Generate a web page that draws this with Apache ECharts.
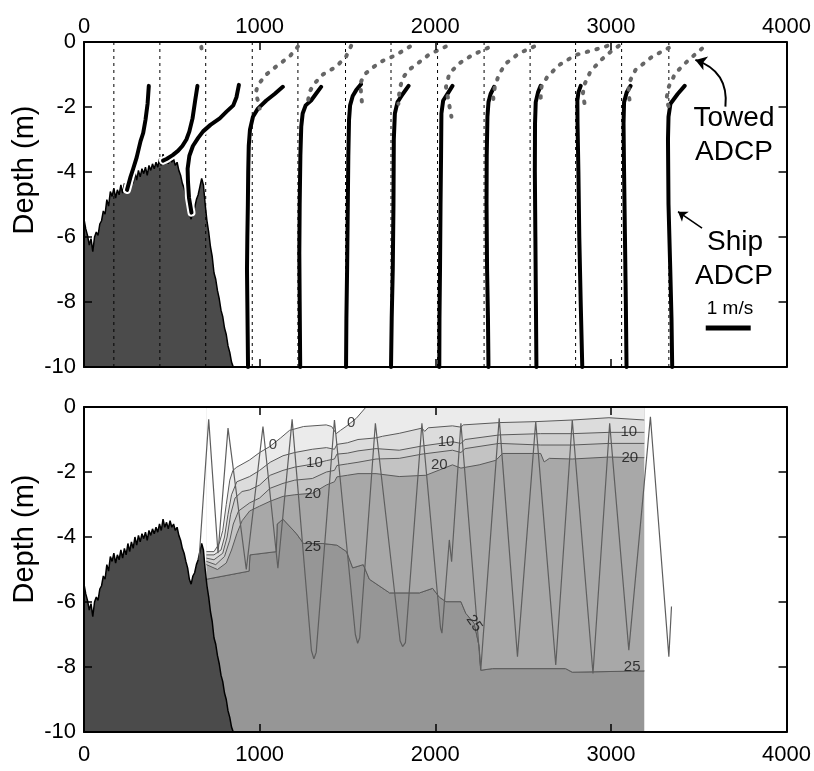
<!DOCTYPE html>
<html>
<head>
<meta charset="utf-8">
<script src="https://cdn.jsdelivr.net/npm/echarts@6.0.0/dist/echarts.min.js"></script>
<style>
  html, body { margin: 0; padding: 0; background: #fff; }
  #chart { width: 814px; height: 771px; }
</style>
</head>
<body>
<div id="chart"></div>
<script>
// distance along section (m) / depth (m)
const stations = [170, 432, 693, 958, 1218, 1489, 1748, 2013, 2278, 2540, 2799, 3061, 3330];

// bottom depth every 10 m from x = 0
const bathyDepth = [
  -5.45, -5.75, -5.95, -6.25, -6.05, -6.45, -6.0, -5.85, -5.95, -5.6,
  -5.5, -5.2, -5.3, -4.85, -5.05, -4.6, -4.75, -4.5, -4.8, -4.55,
  -4.7, -4.4, -4.65, -4.35, -4.55, -4.2, -4.45, -4.15, -4.35, -4.0,
  -4.25, -3.95, -4.15, -3.9, -4.05, -3.85, -4.1, -3.8, -3.95, -3.75,
  -3.9, -3.7, -3.85, -3.6, -3.8, -3.45, -3.7, -3.55, -3.75, -3.5,
  -3.7, -3.6, -3.8, -3.7, -3.95, -4.1, -4.35, -4.5, -4.75, -4.95,
  -5.3, -5.45, -5.2, -5.1, -4.85, -4.7, -4.45, -4.2, -4.4, -5.0,
  -5.5, -5.85, -6.3, -6.6, -7.1, -7.3, -7.65, -7.9, -8.25, -8.45,
  -8.8, -9.0, -9.35, -9.55, -9.85, -10
];
const bathyStep = 10;

// ship ADCP profiles (station + velocity offset, depth)
const shipProfiles = [
  [[369,-1.35],[362,-1.9],[350,-2.4],[337,-2.8],[322,-3.05],[300,-3.55],[280,-3.9],[265,-4.15],[245,-4.55]],
  [[646,-1.35],[633,-1.8],[618,-2.35],[600,-2.75],[583,-3.0],[560,-3.2],[535,-3.35],[505,-3.48],[470,-3.6],[450,-3.65]],
  [[882,-1.32],[868,-1.7],[850,-1.95],[810,-2.15],[773,-2.35],[720,-2.55],[678,-2.75],[650,-2.95],[620,-3.2],[600,-3.5],[590,-3.9],[592,-4.3],[598,-4.8],[612,-5.25]],
  [[1132,-1.38],[1085,-1.6],[1038,-1.8],[990,-2.05],[962,-2.3],[945,-2.7],[938,-3.2],[935,-4.0],[933,-5.0],[930,-6.0],[928,-7.0],[930,-8.0],[932,-9.0],[934,-10]],
  [[1350,-1.38],[1320,-1.6],[1293,-1.8],[1262,-1.95],[1245,-2.2],[1237,-2.6],[1232,-3.5],[1228,-5.0],[1226,-6.5],[1228,-8],[1231,-10]],
  [[1577,-1.3],[1550,-1.48],[1530,-1.66],[1515,-1.95],[1509,-2.4],[1505,-3.5],[1502,-5.0],[1498,-7],[1494,-8.5],[1492,-10]],
  [[1848,-1.35],[1815,-1.6],[1785,-1.85],[1770,-2.2],[1764,-3.0],[1762,-5.0],[1758,-7.0],[1752,-8.5],[1748,-10]],
  [[2098,-1.35],[2075,-1.55],[2045,-1.8],[2035,-2.2],[2033,-3.5],[2030,-5.0],[2027,-7.0],[2024,-8.5],[2023,-10]],
  [[2335,-1.38],[2315,-1.6],[2303,-1.85],[2297,-2.3],[2293,-3.5],[2292,-5.0],[2295,-7.0],[2300,-8.5],[2303,-10]],
  [[2600,-1.35],[2585,-1.55],[2572,-1.85],[2568,-2.5],[2567,-4.0],[2570,-6.0],[2573,-8.0],[2576,-10]],
  [[2828,-1.35],[2815,-1.55],[2809,-1.8],[2810,-2.5],[2815,-4.0],[2820,-6.0],[2828,-8.0],[2837,-10]],
  [[3112,-1.35],[3090,-1.55],[3075,-1.85],[3072,-2.5],[3075,-4.0],[3080,-6.0],[3085,-8.0],[3089,-10]],
  [[3420,-1.35],[3380,-1.6],[3339,-1.9],[3328,-2.3],[3325,-3.0],[3328,-5.0],[3338,-7.0],[3345,-8.5],[3349,-10]]
];

// towed ADCP profiles
const towedProfiles = [
  [[668,-0.15],[670,-0.25]],
  [[1218,-0.14],[1170,-0.45],[1104,-0.71],[1038,-1.0],[990,-1.32],[977,-1.58],[990,-1.8],[1000,-2.05]],
  [[1521,-0.12],[1492,-0.45],[1436,-0.76],[1360,-1.0],[1313,-1.27],[1284,-1.53],[1276,-1.8],[1293,-2.0]],
  [[1856,-0.14],[1776,-0.4],[1701,-0.58],[1640,-0.8],[1597,-1.0],[1575,-1.25],[1577,-1.6],[1586,-2.0]],
  [[2060,-0.14],[1966,-0.38],[1909,-0.62],[1852,-0.85],[1815,-1.1],[1797,-1.45],[1790,-1.9]],
  [[2300,-0.18],[2211,-0.4],[2136,-0.66],[2080,-0.97],[2061,-1.38],[2075,-1.8],[2092,-2.3]],
  [[2563,-0.14],[2477,-0.35],[2402,-0.66],[2364,-0.98],[2340,-1.35],[2330,-1.7],[2335,-2.0]],
  [[2980,-0.12],[2932,-0.2],[2799,-0.4],[2705,-0.71],[2638,-1.07],[2605,-1.37],[2600,-1.7],[2612,-1.95]],
  [[3045,-0.12],[3007,-0.26],[2951,-0.52],[2884,-0.9],[2850,-1.3],[2840,-1.6],[2852,-1.95]],
  [[3330,-0.18],[3235,-0.45],[3140,-0.86],[3102,-1.27],[3100,-1.6],[3112,-1.95]],
  [[3519,-0.2],[3443,-0.55],[3367,-0.96],[3330,-1.37],[3315,-1.78],[3330,-2.0]]
];

// 1 m/s scale bar (m along section) and annotation arrows
const scaleBar = [[3540,-8.8],[3796,-8.8]];
const towedArrow = [[3652,-1.99],[3481,-0.55]];
const shipArrow = [[3519,-5.73],[3382,-5.22]];

// contours of the towed section
const contour0 = [[697,-4.45],[740,-4.45],[770,-4.2],[790,-3.8],[810,-3.0],[830,-2.25],[848,-1.95],[870,-1.85],[943,-1.63],[1000,-1.4],[1057,-1.22],[1120,-0.95],[1170,-0.72],[1250,-0.6],[1379,-0.55],[1410,-0.6],[1436,-0.82],[1460,-0.72],[1492,-0.6],[1550,-0.35],[1606,0],[3190,0]];
const contour5 = [[697,-4.55],[740,-4.55],[780,-4.4],[800,-4.0],[820,-3.3],[840,-2.7],[870,-2.3],[943,-2.14],[1000,-1.95],[1060,-1.7],[1133,-1.5],[1200,-1.4],[1300,-1.3],[1380,-1.25],[1426,-1.3],[1440,-1.15],[1500,-1.1],[1560,-1.0],[1663,-0.95],[1700,-0.9],[1795,-0.81],[1924,-0.65],[1940,-0.75],[1960,-0.64],[2098,-0.58],[2146,-0.62],[2160,-0.55],[2364,-0.48],[2572,-0.45],[2780,-0.4],[2989,-0.33],[3190,-0.4]];
const contour10 = [[697,-4.65],[740,-4.7],[790,-4.5],[815,-4.0],[835,-3.3],[860,-2.8],[900,-2.6],[943,-2.55],[1000,-2.4],[1060,-2.1],[1133,-1.95],[1200,-1.85],[1310,-1.75],[1380,-1.65],[1426,-1.6],[1440,-1.45],[1500,-1.42],[1560,-1.35],[1663,-1.28],[1795,-1.33],[1924,-1.2],[2098,-1.07],[2146,-1.12],[2170,-1.0],[2364,-0.86],[2600,-0.82],[2780,-0.82],[2989,-0.78],[3190,-0.78]];
const contour15 = [[697,-4.75],[750,-4.85],[800,-4.6],[830,-4.1],[850,-3.6],[880,-3.2],[943,-2.95],[1000,-2.8],[1060,-2.5],[1133,-2.35],[1200,-2.25],[1300,-2.2],[1380,-2.0],[1426,-1.95],[1440,-1.8],[1500,-1.75],[1560,-1.7],[1663,-1.6],[1795,-1.58],[1924,-1.45],[2098,-1.33],[2146,-1.4],[2170,-1.28],[2364,-1.12],[2600,-1.17],[2780,-1.17],[2989,-1.12],[3190,-1.12]];
const contour20 = [[697,-4.85],[760,-5.0],[810,-4.8],[840,-4.4],[870,-3.9],[900,-3.5],[943,-3.2],[1000,-3.05],[1060,-2.9],[1133,-2.75],[1200,-2.7],[1303,-2.65],[1380,-2.4],[1426,-2.3],[1440,-2.15],[1500,-2.1],[1560,-2.05],[1663,-2.05],[1795,-2.14],[1947,-2.1],[2098,-1.78],[2146,-1.88],[2250,-1.78],[2345,-1.64],[2383,-1.43],[2600,-1.43],[2620,-1.69],[2650,-1.58],[2780,-1.6],[2989,-1.54],[3190,-1.56]];
const contour25 = [[697,-5.3],[940,-5.05],[945,-4.55],[1095,-4.45],[1100,-3.6],[1133,-3.45],[1210,-3.9],[1250,-4.2],[1360,-4.2],[1440,-4.25],[1495,-4.45],[1530,-4.95],[1590,-4.85],[1625,-5.3],[1740,-5.72],[1910,-5.72],[1985,-5.58],[2023,-5.85],[2061,-5.99],[2146,-5.99],[2174,-6.35],[2222,-6.66],[2250,-7.37],[2259,-8.1],[2325,-8.05],[2742,-8.05],[2780,-8.16],[3190,-8.12]];
const contourLabels = [
  [1076,-1.17,'0'],[1521,-0.5,'0'],
  [1312,-1.73,'10'],[2061,-1.07,'10'],[3102,-0.76,'10'],
  [1303,-2.66,'20'],[2023,-1.78,'20'],[3108,-1.58,'20'],
  [1303,-4.3,'25'],[2222,-6.66,'25'],[3121,-8.0,'25']
];

// tow-yo path of the towed body
const towPath = [[655,-4.7],[710,-0.38],[763,-4.5],[820,-0.65],[924,-5.0],[1019,-0.6],[1104,-4.96],[1185,-0.38],[1295,-7.5],[1309,-7.75],[1322,-7.55],[1426,-0.4],[1545,-7.0],[1558,-7.27],[1570,-7.1],[1659,-0.5],[1800,-7.2],[1814,-7.37],[1830,-7.25],[1924,-0.5],[2030,-6.8],[2038,-6.96],[2080,-4.09],[2093,-4.76],[2146,-0.5],[2259,-8.09],[2364,-0.35],[2468,-7.68],[2572,-0.45],[2686,-7.94],[2780,-0.4],[2898,-8.2],[2993,-0.5],[3102,-7.48],[3225,-0.3],[3330,-7.68],[3345,-6.14]];

const FONT = '"Liberation Sans", Arial, sans-serif';
const bathy = bathyDepth.map((d, i) => [i * bathyStep, d]);

const chart = echarts.init(document.getElementById('chart'));

const grids = [
  { left: 84, top: 42, width: 704, height: 325 },
  { left: 84, top: 407, width: 704, height: 325 }
];

function xAx(grid, position, labels) {
  return {
    type: 'value', gridIndex: grid, position: position, z: 30,
    min: 0, max: 4000, interval: 1000,
    axisLine: { show: true, onZero: false, lineStyle: { color: '#000', width: 2 } },
    axisTick: { show: true, inside: true, length: 8, lineStyle: { color: '#000', width: 1.5 } },
    axisLabel: { show: labels, fontSize: 22, fontFamily: FONT, color: '#000',
                 margin: position === 'top' ? 4 : 12, formatter: v => String(v) },
    splitLine: { show: false }
  };
}
function yAx(grid, position, labels) {
  return {
    type: 'value', gridIndex: grid, position: position, z: 30,
    min: -10, max: 0, interval: 2,
    axisLine: { show: true, onZero: false, lineStyle: { color: '#000', width: 2 } },
    axisTick: { show: true, inside: true, length: 8, lineStyle: { color: '#000', width: 1.5 } },
    axisLabel: { show: labels, fontSize: 22, fontFamily: FONT, color: '#000', margin: 8,
                 formatter: v => String(v) },
    splitLine: { show: false }
  };
}

function line(data, axis, style, extra) {
  return Object.assign({
    type: 'line', data: data, xAxisIndex: axis, yAxisIndex: axis,
    showSymbol: false, symbol: 'none', silent: true, animation: false,
    lineStyle: style
  }, extra || {});
}

const series = [];

// ---------- top panel ----------
series.push(line(bathy, 0, { color: '#000', width: 1.5 },
  { areaStyle: { color: '#4b4b4b', opacity: 1, origin: 'start' }, z: 1 }));
stations.forEach(s => {
  series.push(line([[s, 0], [s, -10]], 0, { color: '#000', width: 1, type: [3, 4] }, { z: 2 }));
});
shipProfiles.slice(0, 3).forEach(p => {
  series.push(line(p, 0, { color: '#fff', width: 8, cap: 'round', join: 'round' }, { z: 3 }));
});
shipProfiles.forEach(p => {
  series.push(line(p, 0, { color: '#000', width: 4, cap: 'round', join: 'round' }, { z: 4 }));
});
towedProfiles.forEach(p => {
  series.push(line(p, 0, { color: '#666', width: 4, type: [1.5, 8.5], cap: 'round' }, { z: 5 }));
});
series.push(line(scaleBar, 0, { color: '#000', width: 5 }, { z: 5 }));
series.push({
  type: 'lines', coordinateSystem: 'cartesian2d', xAxisIndex: 0, yAxisIndex: 0,
  silent: true, animation: false, z: 6,
  symbol: ['none', 'arrow'], symbolSize: 11,
  lineStyle: { color: '#000', width: 2, curveness: -0.4, opacity: 1 },
  data: [{ coords: towedArrow }]
});
series.push({
  type: 'lines', coordinateSystem: 'cartesian2d', xAxisIndex: 0, yAxisIndex: 0,
  silent: true, animation: false, z: 6,
  symbol: ['none', 'arrow'], symbolSize: 9,
  lineStyle: { color: '#000', width: 1.5, curveness: 0, opacity: 1 },
  data: [{ coords: shipArrow }]
});

// ---------- bottom panel ----------
const lineCol = { color: '#5a5a5a', width: 1 };
series.push(line(contour25, 2, lineCol, { areaStyle: { color: '#969696', opacity: 1, origin: 'start' }, z: 1 }));
[[contour25, '#a8a8a8'], [contour20, '#c3c3c3'], [contour15, '#cfcfcf'],
 [contour10, '#dcdcdc'], [contour5, '#ebebeb'], [contour0, '#ffffff']].forEach(([c, col], i) => {
  series.push(line(c, 2, lineCol, { areaStyle: { color: col, opacity: 1, origin: 'end' }, z: 2 + i }));
});
series.push(line(bathy, 2, { color: '#000', width: 1.5 },
  { areaStyle: { color: '#4b4b4b', opacity: 1, origin: 'start' }, z: 9 }));
series.push(line(towPath, 2, { color: '#5e5e5e', width: 1.2 }, { z: 10 }));
series.push({
  type: 'scatter', xAxisIndex: 2, yAxisIndex: 2, silent: true, animation: false, z: 11,
  symbolSize: 0,
  data: contourLabels.map((d, i) => ({
    value: d,
    label: i === 9 ? { rotate: -55 } : undefined
  })),
  label: {
    show: true, position: 'inside', fontSize: 15, fontFamily: FONT, color: '#111',
    formatter: p => p.value[2]
  }
});

const txt = (t, x, y, size, rot) => ({
  type: 'text', x: x, y: y, z: 100, silent: true, rotation: rot || 0,
  style: { text: t, font: size + 'px ' + FONT, fill: '#000', align: 'center', verticalAlign: 'middle' }
});

chart.setOption({
  animation: false,
  backgroundColor: '#fff',
  grid: grids,
  xAxis: [xAx(0, 'bottom', false), xAx(0, 'top', true), xAx(1, 'bottom', true), xAx(1, 'top', false)],
  yAxis: [yAx(0, 'left', true), yAx(0, 'right', false), yAx(1, 'left', true), yAx(1, 'right', false)],
  series: series,
  graphic: [
    txt('Depth (m)', 25, 170, 29, Math.PI / 2),
    txt('Depth (m)', 25, 539, 29, Math.PI / 2),
    txt('Towed', 734, 118, 28),
    txt('ADCP', 734, 152, 28),
    txt('Ship', 735, 242, 28),
    txt('ADCP', 734, 276, 28),
    txt('1 m/s', 730, 309, 19)
  ]
});
</script>
</body>
</html>
